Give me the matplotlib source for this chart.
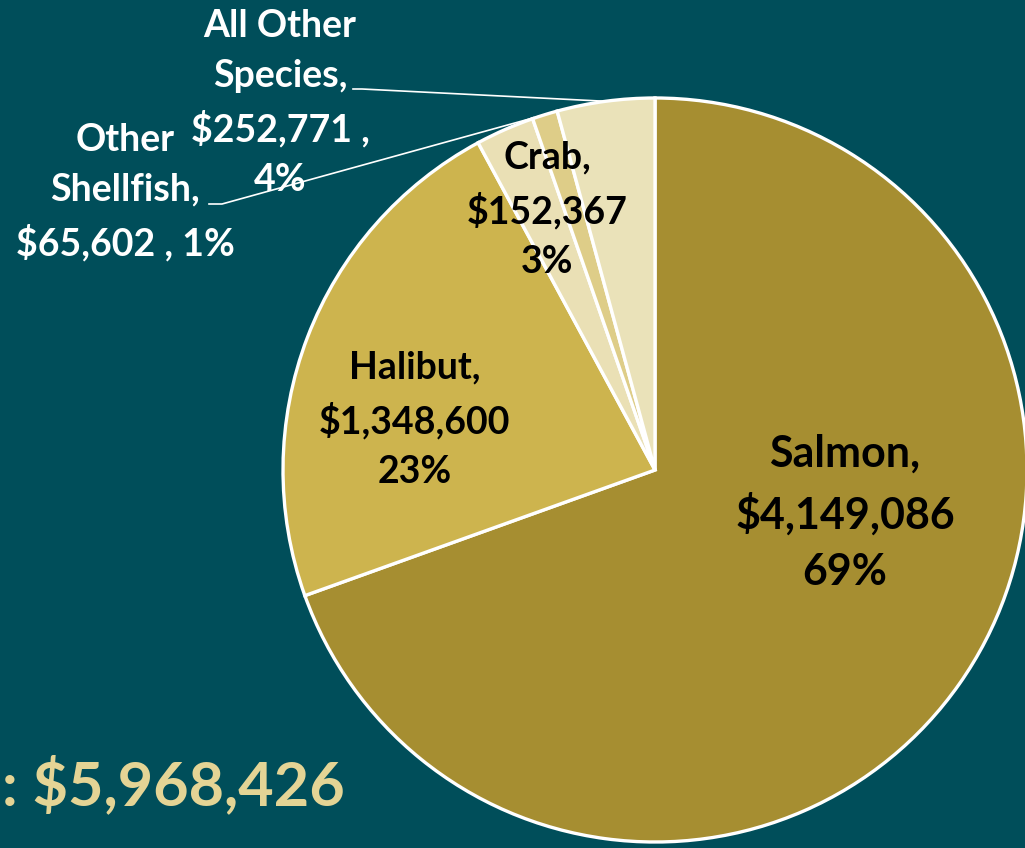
import numpy as np
import matplotlib
matplotlib.use("Agg")
import matplotlib.pyplot as plt

# data
species = ["Salmon", "Halibut", "Crab", "Other Shellfish", "All Other Species"]
values = [4149086, 1348600, 152367, 65602, 252771]
pct_labels = ["69%", "23%", "3%", "1%", "4%"]
colors = ["#A68E31", "#CDB44E", "#EAE0B5", "#DECD88", "#EAE2B9"]
total_text = ": $5,968,426"

BG = "#004E5A"
W, H = 1025, 848

plt.rcParams['font.family'] = ['Lato', 'DejaVu Sans']

fig = plt.figure(figsize=(W / 100, H / 100), dpi=100, facecolor=BG)
ax = fig.add_axes([0, 0, 1, 1])
ax.set_facecolor(BG)

cx, cy, r = 655, H - 470, 372


def py(y):
    # pixel row from top -> data y
    return H - y


wedges, _ = ax.pie(values, colors=colors, startangle=90, counterclock=False,
                   center=(cx, cy), radius=r, frame=True,
                   wedgeprops=dict(edgecolor="white", linewidth=2.4))
ax.set_xlim(0, W)
ax.set_ylim(0, H)
ax.set_aspect('equal')
ax.axis('off')

# inside labels
ax.text(845, py(513), "Salmon,\n$4,149,086\n69%", ha='center', va='center',
        fontsize=31, fontweight='bold', color='black', linespacing=1.5)
ax.text(415, py(420), "Halibut,\n$1,348,600\n23%", ha='center', va='center',
        fontsize=27, fontweight='bold', color='black', linespacing=1.55)
ax.text(547, py(210), "Crab,\n$152,367\n3%", ha='center', va='center',
        fontsize=27, fontweight='bold', color='black', linespacing=1.55)

# outside labels
ax.text(125, py(192), "Other\nShellfish,\n$65,602 , 1%", ha='center', va='center',
        fontsize=27, fontweight='bold', color='white', linespacing=1.55)
ax.text(280, py(103), "All Other\nSpecies,\n$252,771 ,\n4%", ha='center', va='center',
        fontsize=27, fontweight='bold', color='white', linespacing=1.55)


def edge_point(w):
    mid = np.deg2rad((w.theta1 + w.theta2) / 2)
    return cx + r * np.cos(mid), cy + r * np.sin(mid)


ex, ey = edge_point(wedges[4])
ax.plot([353, 362, ex], [py(89), py(89), ey], color='white', lw=1.2)
ex, ey = edge_point(wedges[3])
ax.plot([209, 222, ex], [py(204), py(204), ey], color='white', lw=1.2)

ax.text(2, py(785), total_text, ha='left', va='center', fontsize=44,
        fontweight='bold', color='#E4D495')

fig.savefig("out.png", dpi=100, facecolor=BG)
